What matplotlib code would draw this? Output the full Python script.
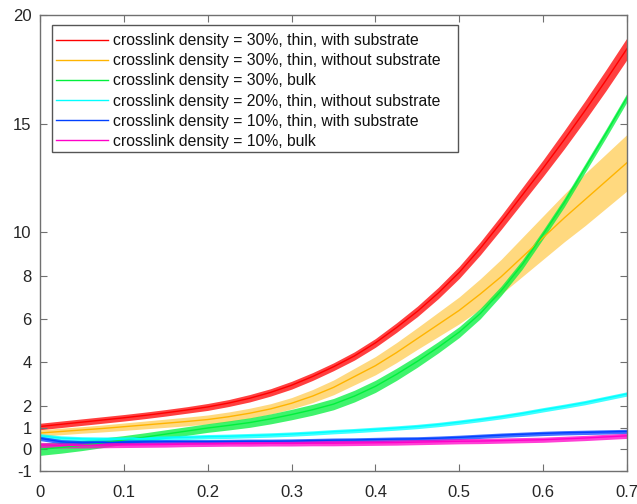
import matplotlib
matplotlib.use("Agg")
import matplotlib.pyplot as plt
from matplotlib.patches import Rectangle
import numpy as np

plt.rcParams['font.family'] = ['Liberation Sans', 'DejaVu Sans']

# strain grid shared by all series
strain = [0.000, 0.025, 0.050, 0.075, 0.100, 0.125, 0.150, 0.175, 0.200, 0.225,
          0.250, 0.275, 0.300, 0.325, 0.350, 0.375, 0.400, 0.425, 0.450, 0.475,
          0.500, 0.525, 0.550, 0.575, 0.600, 0.625, 0.650, 0.675, 0.700]

# mean response of each sample
red_30_thin_sub = [1.05, 1.15, 1.25, 1.35, 1.45, 1.56, 1.68, 1.81, 1.95, 2.13,
                   2.35, 2.62, 2.95, 3.35, 3.80, 4.30, 4.90, 5.60, 6.35, 7.20,
                   8.15, 9.25, 10.45, 11.70, 12.95, 14.25, 15.60, 17.00, 18.45]
yel_30_thin_free = [0.75, 0.82, 0.89, 0.96, 1.04, 1.12, 1.20, 1.28, 1.37, 1.50,
                    1.66, 1.86, 2.12, 2.45, 2.85, 3.35, 3.85, 4.45, 5.10, 5.75,
                    6.40, 7.15, 7.95, 8.85, 9.75, 10.65, 11.50, 12.35, 13.20]
grn_30_bulk = [0.00, 0.08, 0.18, 0.30, 0.43, 0.56, 0.70, 0.84, 0.98, 1.10,
               1.23, 1.40, 1.60, 1.82, 2.08, 2.45, 2.90, 3.45, 4.05, 4.70,
               5.40, 6.25, 7.30, 8.50, 9.90, 11.35, 12.95, 14.55, 16.20]
cyn_20_thin_free = [0.62, 0.52, 0.48, 0.47, 0.47, 0.50, 0.52, 0.55, 0.58, 0.60,
                    0.63, 0.66, 0.70, 0.75, 0.81, 0.86, 0.92, 0.98, 1.05, 1.14,
                    1.25, 1.37, 1.50, 1.65, 1.82, 1.98, 2.15, 2.35, 2.55]
blu_10_thin_sub = [0.50, 0.35, 0.30, 0.31, 0.33, 0.34, 0.35, 0.35, 0.35, 0.36,
                   0.37, 0.37, 0.38, 0.40, 0.42, 0.43, 0.45, 0.47, 0.48, 0.51,
                   0.55, 0.60, 0.65, 0.69, 0.73, 0.76, 0.78, 0.80, 0.82]
mag_10_bulk = [0.20, 0.18, 0.18, 0.19, 0.20, 0.21, 0.22, 0.24, 0.25, 0.26,
               0.26, 0.27, 0.27, 0.28, 0.28, 0.29, 0.30, 0.31, 0.33, 0.35,
               0.37, 0.38, 0.40, 0.42, 0.44, 0.48, 0.52, 0.57, 0.62]

# half-width of the fluctuation band around each mean
red_spread = [0.15, 0.15, 0.15, 0.15, 0.15, 0.15, 0.15, 0.15, 0.16, 0.16,
              0.17, 0.17, 0.18, 0.18, 0.18, 0.19, 0.20, 0.22, 0.24, 0.26,
              0.28, 0.30, 0.32, 0.35, 0.38, 0.42, 0.45, 0.48, 0.50]
yel_spread = [0.15, 0.15, 0.15, 0.16, 0.17, 0.18, 0.19, 0.20, 0.21, 0.22,
              0.23, 0.24, 0.26, 0.30, 0.34, 0.38, 0.42, 0.46, 0.50, 0.56,
              0.62, 0.70, 0.80, 0.90, 1.00, 1.10, 1.20, 1.25, 1.30]
grn_spread = [0.28, 0.26, 0.24, 0.22, 0.20, 0.20, 0.20, 0.20, 0.20, 0.21,
              0.22, 0.23, 0.24, 0.25, 0.26, 0.27, 0.28, 0.28, 0.27, 0.26,
              0.25, 0.24, 0.22, 0.21, 0.20, 0.20, 0.20, 0.20, 0.20]
cyn_spread = [0.10] * 29
blu_spread = [0.10] * 29
mag_spread = [0.12] * 29

labels = ['crosslink density = 30%, thin, with substrate',
          'crosslink density = 30%, thin, without substrate',
          'crosslink density = 30%, bulk',
          'crosslink density = 20%, thin, without substrate',
          'crosslink density = 10%, thin, with substrate',
          'crosslink density = 10%, bulk']
colors = ['#ff0000', '#ffb400', '#00f03c', '#00ffff', '#0040ff', '#ff00c8']

x_ticks = [0, 0.1, 0.2, 0.3, 0.4, 0.5, 0.6, 0.7]
x_tick_labels = ['0', '0.1', '0.2', '0.3', '0.4', '0.5', '0.6', '0.7']
y_ticks = [-1, 0, 1, 2, 4, 6, 8, 10, 15, 20]
y_tick_labels = ['-1', '0', '1', '2', '4', '6', '8', '10', '15', '20']

series = [red_30_thin_sub, yel_30_thin_free, grn_30_bulk,
          cyn_20_thin_free, blu_10_thin_sub, mag_10_bulk]
spreads = [red_spread, yel_spread, grn_spread, cyn_spread, blu_spread, mag_spread]
band_alpha = [0.75, 0.5, 0.75, 0.75, 0.75, 0.75]

W, H = 637, 504
fig = plt.figure(figsize=(W / 100, H / 100), dpi=100)
ax_l, ax_b, ax_w, ax_h = 40, 33, 587, 456
ax = fig.add_axes([ax_l / W, ax_b / H, ax_w / W, ax_h / H])

xs = np.array(strain)
for ys, sp, col, a in zip(series, spreads, colors, band_alpha):
    ys = np.array(ys)
    sp = np.array(sp)
    ax.fill_between(xs, ys - sp, ys + sp, color=col, alpha=a, lw=0)
    ax.plot(xs, ys, color=col, lw=1.0)

ax.set_xlim(0, 0.7)
ax.set_ylim(-1, 20)
ax.set_xticks(x_ticks)
ax.set_xticklabels(x_tick_labels)
ax.set_yticks(y_ticks)
ax.set_yticklabels(y_tick_labels)

axis_col = '#707070'
text_col = '#262626'
for s in ax.spines.values():
    s.set_color(axis_col)
    s.set_linewidth(1.0)
ax.tick_params(direction='in', length=5, width=0.8, color=axis_col,
               labelcolor=text_col, labelsize=12, top=True, right=True)
ax.tick_params(axis='x', pad=10)
ax.tick_params(axis='y', pad=6)

# legend frame (pixel box inside the axes, origin at top-left of figure)
def ax_frac(px, py):
    return (px - ax_l) / ax_w, 1 - (py - (H - ax_b - ax_h)) / ax_h

fx0, fy1 = ax_frac(52, 25)
fx1, fy0 = ax_frac(458, 152)
ax.add_patch(Rectangle((fx0, fy0), fx1 - fx0, fy1 - fy0, transform=ax.transAxes,
                       facecolor='white', edgecolor='#555555', lw=1.0, zorder=5))

ax_x, ax_y = ax_frac(56, 33)
leg = ax.legend(handles=[plt.Line2D([], [], color=c, lw=1.0) for c in colors],
                labels=labels, loc='upper left',
                bbox_to_anchor=(ax_x, ax_y),
                fontsize=11.3, frameon=False,
                handlelength=3.3, handletextpad=0.35, labelspacing=0.33,
                borderpad=0.0, borderaxespad=0.0)
leg.set_zorder(6)
for t in leg.get_texts():
    t.set_color('#111111')

fig.savefig('out.png', dpi=100)
